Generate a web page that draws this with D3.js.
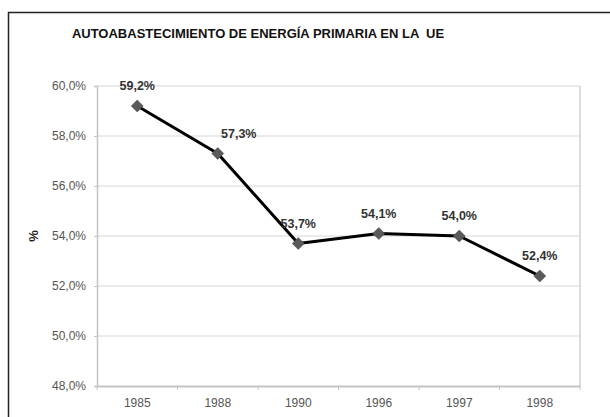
<!DOCTYPE html>
<html><head><meta charset="utf-8">
<script src="https://cdn.jsdelivr.net/npm/d3@7/dist/d3.min.js"></script>
<style>body{margin:0;background:#fff;}svg{display:block;font-family:"Liberation Sans",Arial,sans-serif;}</style>
</head><body><svg id="c" width="610" height="417"></svg>
<script>
const years = ["1985","1988","1990","1996","1997","1998"];
const values = [59.2, 57.3, 53.7, 54.1, 54.0, 52.4];
const yTicks = [48, 50, 52, 54, 56, 58, 60];
const title = "AUTOABASTECIMIENTO DE ENERGÍA PRIMARIA EN LA  UE";
const yTitle = "%";

const svg = d3.select("#c");
const fmt = v => d3.format(".1f")(v).replace(".", ",") + "%";

svg.append("rect").attr("x",8.5).attr("y",12.5).attr("width",700).attr("height",500)
  .attr("fill","none").attr("stroke","#222").attr("stroke-width",1.5);

svg.append("text").attr("x",258).attr("y",38).attr("text-anchor","middle")
  .attr("font-size",13).attr("font-weight","bold").attr("fill","#111")
  .style("white-space","pre").text(title);

const L=97, R=580, T=86, B=386;
const x = d3.scaleBand().domain(years).range([L,R]);
const y = d3.scaleLinear().domain([48,60]).range([B,T]);

// gridlines
svg.append("g").selectAll("line").data(yTicks.slice(1)).join("line")
  .attr("x1",L).attr("x2",R).attr("y1",d=>y(d)).attr("y2",d=>y(d))
  .attr("stroke","#d6d6d6").attr("stroke-width",1);
// right border
svg.append("line").attr("x1",R).attr("x2",R).attr("y1",T).attr("y2",B)
  .attr("stroke","#d0d0d0").attr("stroke-width",1.5);

// y axis
const ya = svg.append("g").attr("transform",`translate(${L},0)`)
  .call(d3.axisLeft(y).tickValues(yTicks).tickFormat(fmt).tickSize(3).tickPadding(8));
ya.select(".domain").attr("stroke","#c4c4c4").attr("stroke-width",1.5);
ya.selectAll(".tick line").attr("stroke","#c4c4c4");
ya.selectAll("text").attr("font-size",12).attr("fill","#555")
  .attr("font-family","'Liberation Sans',Arial,sans-serif");

// x axis
const xa = svg.append("g").attr("transform",`translate(0,${B})`)
  .call(d3.axisBottom(x).tickSize(0).tickPadding(12));
xa.select(".domain").attr("stroke","#c4c4c4").attr("stroke-width",2);
xa.selectAll("text").attr("font-size",12).attr("fill","#555")
  .attr("font-family","'Liberation Sans',Arial,sans-serif");
svg.append("g").selectAll("line").data(years.concat(["end"])).join("line")
  .attr("x1",(d,i)=>L+i*x.step()).attr("x2",(d,i)=>L+i*x.step())
  .attr("y1",B).attr("y2",B+4).attr("stroke","#c4c4c4");

// y title
svg.append("text").attr("transform","translate(38,236) rotate(-90)")
  .attr("text-anchor","middle").attr("font-size",13).attr("font-weight","bold")
  .attr("fill","#222").text(yTitle);

const cx = d => x(d) + x.bandwidth()/2;
const line = d3.line().x((d,i)=>cx(years[i])).y(d=>y(d));
svg.append("path").datum(values).attr("d",line).attr("fill","none")
  .attr("stroke","#000").attr("stroke-width",3).attr("stroke-linejoin","round");

svg.append("g").selectAll("path").data(values).join("path")
  .attr("d",d3.symbol(d3.symbolSquare, 72))
  .attr("transform",(d,i)=>`translate(${cx(years[i])},${y(d)}) rotate(45)`)
  .attr("fill","#5a5a5a").attr("stroke","#444").attr("stroke-width",0.5);

svg.append("g").selectAll("text").data(values).join("text")
  .attr("x",(d,i)=>cx(years[i]) + (i===1?21:0))
  .attr("y",d=>y(d)-16)
  .attr("text-anchor","middle").attr("font-size",12.5).attr("font-weight","bold")
  .attr("fill","#333").text(fmt);
</script></body></html>
